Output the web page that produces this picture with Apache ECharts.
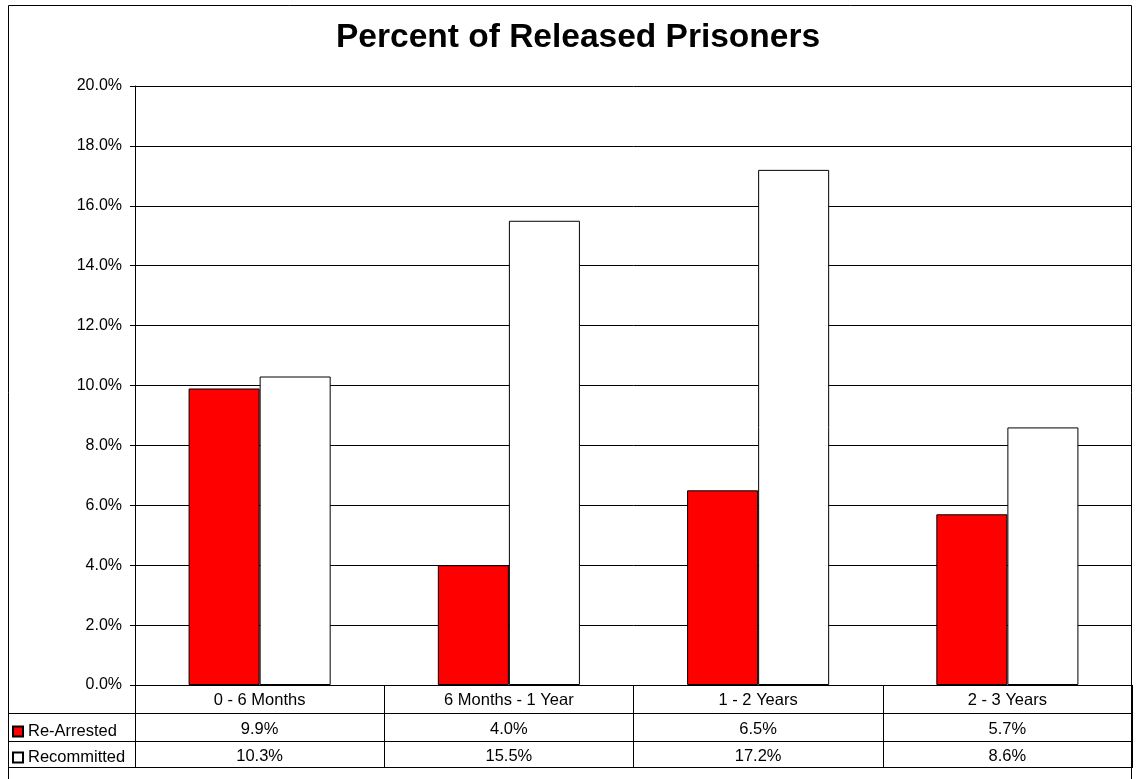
<!DOCTYPE html>
<html>
<head>
<meta charset="utf-8">
<script src="https://cdn.jsdelivr.net/npm/echarts@6/dist/echarts.min.js"></script>
<style>
html,body{margin:0;padding:0;background:#fff;}
#chart{width:1136px;height:779px;}
</style>
</head>
<body>
<div id="chart"></div>
<script>
var titleText = 'Percent of Released Prisoners';
var categories = ['0 - 6 Months', '6 Months - 1 Year', '1 - 2 Years', '2 - 3 Years'];
var seriesNames = ['Re-Arrested', 'Recommitted'];
var reArrested = [9.9, 4.0, 6.5, 5.7];
var recommitted = [10.3, 15.5, 17.2, 8.6];
var yMin = 0, yMax = 20, yInterval = 2;

var FONT = '"Liberation Sans", Arial, sans-serif';
var chart = echarts.init(document.getElementById('chart'), null, {renderer: 'canvas'});

function fmt(v) { return v.toFixed(1) + '%'; }

var option = {
  backgroundColor: '#ffffff',
  animation: false,
  title: {
    text: titleText,
    left: 336,
    top: 21,
    padding: 0,
    textStyle: {fontFamily: FONT, fontSize: 33.5, fontWeight: 'bold', color: '#000'}
  },
  legend: {
    orient: 'vertical',
    left: 7,
    top: 718,
    itemWidth: 10,
    itemHeight: 10,
    itemGap: 9,
    icon: 'rect',
    selectedMode: false,
    data: seriesNames,
    textStyle: {fontFamily: FONT, fontSize: 16.5, color: '#000'}
  },
  grid: {left: 135, right: 4, top: 86, bottom: 94, containLabel: false},
  xAxis: {
    type: 'category',
    data: categories,
    boundaryGap: true,
    axisLine: {show: true, lineStyle: {color: '#000', width: 1}},
    axisTick: {show: true, length: 83, lineStyle: {color: '#000', width: 1}},
    axisLabel: {
      interval: 0,
      margin: 1,
      fontFamily: FONT,
      formatter: function (val, idx) {
        return '{a|' + val + '}\n{b|' + fmt(reArrested[idx]) + '}\n{c|' + fmt(recommitted[idx]) + '}';
      },
      rich: {
        a: {fontFamily: FONT, fontSize: 16.5, color: '#000', lineHeight: 29},
        b: {fontFamily: FONT, fontSize: 16.5, color: '#000', lineHeight: 28},
        c: {fontFamily: FONT, fontSize: 16.5, color: '#000', lineHeight: 26}
      }
    },
    splitLine: {show: false}
  },
  yAxis: {
    type: 'value',
    min: yMin,
    max: yMax,
    interval: yInterval,
    axisLine: {show: true, lineStyle: {color: '#000', width: 1}},
    axisTick: {show: true, length: 5, lineStyle: {color: '#000'}},
    axisLabel: {margin: 13, fontFamily: FONT, fontSize: 16, color: '#000', formatter: fmt},
    splitLine: {show: true, lineStyle: {color: '#000', width: 1}}
  },
  series: [
    {
      name: seriesNames[0],
      type: 'bar',
      data: reArrested,
      barGap: '0%',
      barCategoryGap: '43%',
      itemStyle: {color: '#ff0000', borderColor: '#000', borderWidth: 1}
    },
    {
      name: seriesNames[1],
      type: 'bar',
      data: recommitted,
      barGap: '0%',
      barCategoryGap: '43%',
      itemStyle: {color: '#ffffff', borderColor: '#000', borderWidth: 1}
    }
  ],
  graphic: [
    {type: 'rect', shape: {x: 8.5, y: 5.5, width: 1123, height: 800}, style: {fill: null, stroke: '#000', lineWidth: 1}, silent: true, z: 10},
    {type: 'line', shape: {x1: 8, y1: 713.5, x2: 1132, y2: 713.5}, style: {stroke: '#000', lineWidth: 1}, silent: true},
    {type: 'line', shape: {x1: 8, y1: 741.5, x2: 1132, y2: 741.5}, style: {stroke: '#000', lineWidth: 1}, silent: true},
    {type: 'line', shape: {x1: 8, y1: 767.5, x2: 1132, y2: 767.5}, style: {stroke: '#000', lineWidth: 1}, silent: true}
  ]
};
chart.setOption(option);
</script>
</body>
</html>
